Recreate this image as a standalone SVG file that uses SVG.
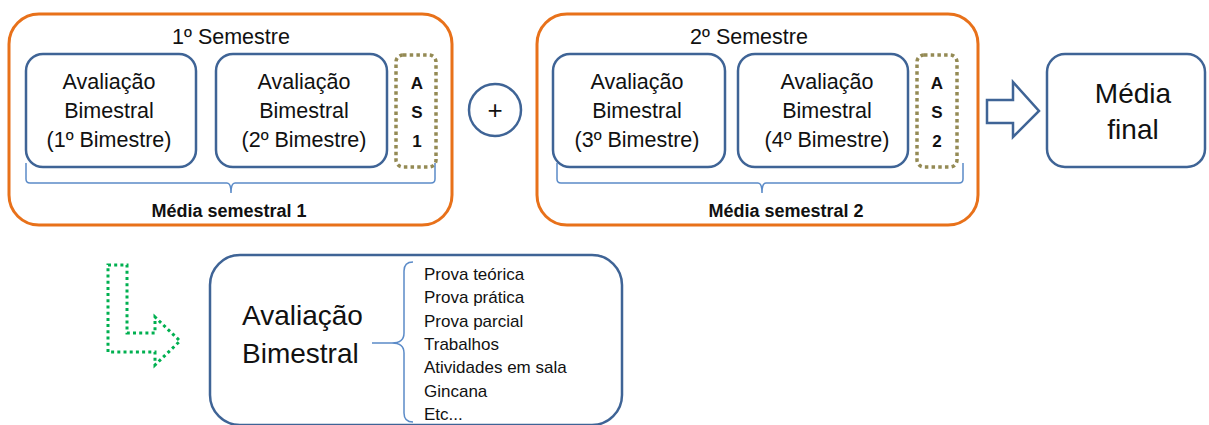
<svg xmlns="http://www.w3.org/2000/svg" width="1209" height="425" viewBox="0 0 1209 425">
<style>
  text { font-family: "Liberation Sans", Arial, sans-serif; fill: #111; }
  .sem { fill: #fff; stroke: #E8711A; stroke-width: 3; }
  .box { fill: #fff; stroke: #3F6496; stroke-width: 2.5; }
  .as { fill: #fff; stroke: #948A54; stroke-width: 3.5; stroke-dasharray: 3.5 3.2; }
  .brace { fill: none; stroke: #5B8BC8; stroke-width: 1.5; }
  .t20 { font-size: 21.5px; text-anchor: middle; }
  .asl { font-size: 17px; font-weight: bold; text-anchor: middle; }
  .ms { font-size: 18px; font-weight: bold; text-anchor: middle; }
  .big { font-size: 28px; }
  .li { font-size: 17px; }
</style>

<g id="semestre1">
  <rect class="sem" x="9" y="14" width="443" height="211" rx="30"/>
  <text class="t20" x="231" y="44">1º Semestre</text>
</g>
<g id="bim1">
  <rect class="box" x="26" y="54" width="170" height="113" rx="17"/>
  <text class="t20" x="109" y="89">Avaliação</text>
  <text class="t20" x="109" y="118">Bimestral</text>
  <text class="t20" x="109" y="147">(1º Bimestre)</text>
</g>
<g id="bim2">
  <rect class="box" x="216" y="54" width="171" height="113" rx="17"/>
  <text class="t20" x="304" y="89">Avaliação</text>
  <text class="t20" x="304" y="118">Bimestral</text>
  <text class="t20" x="304" y="147">(2º Bimestre)</text>
</g>
<g id="as1">
  <rect class="as" x="396" y="55" width="40" height="112" rx="7"/>
  <text class="asl" x="417" y="89">A</text>
  <text class="asl" x="417" y="118">S</text>
  <text class="asl" x="417" y="147">1</text>
</g>
<g id="media1">
  <text class="ms" x="229" y="217">Média semestral 1</text>
</g>

<g id="plus">
  <circle class="box" cx="495" cy="110" r="26"/>
  <text x="495" y="119" style="font-size:26px;text-anchor:middle">+</text>
</g>

<g id="semestre2">
  <rect class="sem" x="537" y="14" width="441" height="211" rx="30"/>
  <text class="t20" x="749" y="44">2º Semestre</text>
</g>
<g id="bim3">
  <rect class="box" x="553" y="54" width="172" height="113" rx="17"/>
  <text class="t20" x="637" y="89">Avaliação</text>
  <text class="t20" x="637" y="118">Bimestral</text>
  <text class="t20" x="637" y="147">(3º Bimestre)</text>
</g>
<g id="bim4">
  <rect class="box" x="738" y="54" width="170" height="113" rx="17"/>
  <text class="t20" x="827" y="89">Avaliação</text>
  <text class="t20" x="827" y="118">Bimestral</text>
  <text class="t20" x="827" y="147">(4º Bimestre)</text>
</g>
<g id="as2">
  <rect class="as" x="917" y="55" width="40" height="112" rx="7"/>
  <text class="asl" x="937" y="89">A</text>
  <text class="asl" x="937" y="118">S</text>
  <text class="asl" x="937" y="147">2</text>
</g>
<g id="media2">
  <text class="ms" x="786" y="217">Média semestral 2</text>
</g>

<g id="mediafinal">
  <rect class="box" x="1047" y="54" width="158" height="113" rx="18"/>
  <text class="big" x="1133" y="103" text-anchor="middle">Média</text>
  <text class="big" x="1133" y="139" text-anchor="middle">final</text>
</g>

<g id="avaliacao">
  <rect class="box" x="210" y="255" width="412" height="170" rx="30"/>
  <text class="big" x="242" y="325">Avaliação</text>
  <text class="big" x="242" y="363">Bimestral</text>
  <text class="li" x="424" y="280">Prova teórica</text>
  <text class="li" x="424" y="303">Prova prática</text>
  <text class="li" x="424" y="327">Prova parcial</text>
  <text class="li" x="424" y="350">Trabalhos</text>
  <text class="li" x="424" y="373">Atividades em sala</text>
  <text class="li" x="424" y="397">Gincana</text>
  <text class="li" x="424" y="420">Etc...</text>
</g>

<g id="connectors">
  <path class="brace" d="M26,163 V179 Q26,183 30,183 H227 Q231,183 231,193 Q231,183 235,183 H431 Q435,183 435,179 V163"/>
  <path class="brace" d="M557,163 V179 Q557,183 561,183 H758 Q762,183 762,193 Q762,183 766,183 H959 Q963,183 963,179 V163"/>
  <path class="brace" d="M413,262 Q404,262 404,271 V333 Q404,343 392,343 H372 M392,343 Q404,343 404,353 V413 Q404,422 413,422"/>
  <path d="M987,100 H1013 V82 L1039,111 L1013,137 V123 H987 Z" fill="#fff" stroke="#3F6496" stroke-width="2.5" stroke-linejoin="miter"/>
  <path d="M108,265 H127 V333 H155 V317 L180,341 L155,365 V352 H108 Z" fill="none" stroke="#00B050" stroke-width="3" stroke-dasharray="3 3.2"/>
</g>
</svg>
